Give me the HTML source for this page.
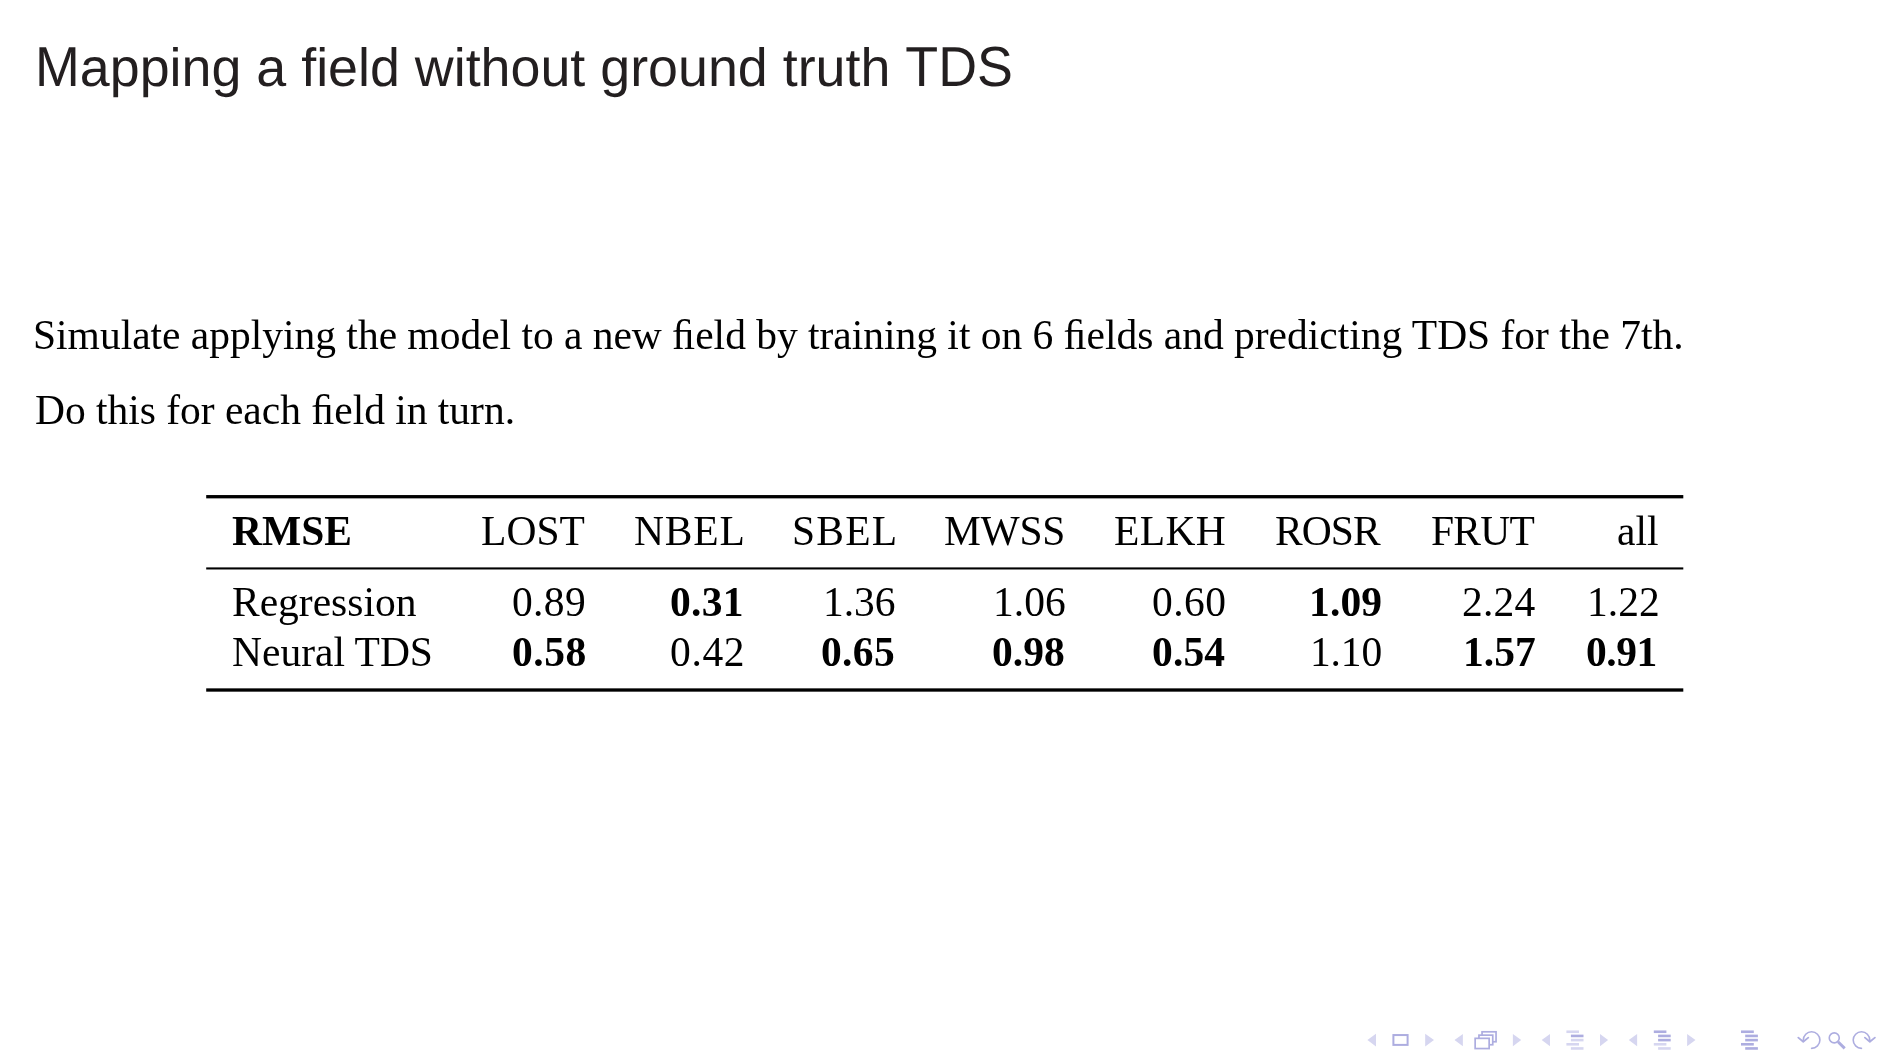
<!DOCTYPE html>
<html><head><meta charset="utf-8"><title>Mapping a field without ground truth TDS</title>
<style>
html,body{margin:0;padding:0;background:#fff;-webkit-font-smoothing:antialiased}
body{width:1890px;height:1063px;position:relative;overflow:hidden}
.a{position:absolute;white-space:nowrap;margin:0;will-change:transform}
.ttl{font-family:"Liberation Sans",sans-serif;font-size:53.8px;line-height:60px;color:#231F20;left:35px;top:37.8px;text-rendering:geometricPrecision}
.c{display:inline-block;transform:scaleY(1.049);transform-origin:0 48.65px}
.s{font-family:"Liberation Serif",serif;font-size:41.5px;line-height:50px;color:#000}
.r{text-align:right}
.b{font-weight:bold}
svg{position:absolute;left:0;top:0}
</style></head><body>
<div class="a ttl"><span class="c">M</span>apping a field without ground truth <span class="c">T</span><span class="c">D</span><span class="c">S</span></div>
<div class="a s" style="left:33.4px;top:310px;word-spacing:-0.08px">Simulate applying the model to a new ﬁeld by training it on 6 ﬁelds and predicting TDS for the 7th.</div>
<div class="a s" style="left:34.5px;top:385px;word-spacing:-0.1px">Do this for each ﬁeld in turn.</div>

<!-- TABLE START -->
<div class="a s b" style="left:231.8px;top:506px;">RMSE</div>
<div class="a s r" style="right:1304.92px;top:506px;letter-spacing:0.04px;">LOST</div>
<div class="a s r" style="right:1144.23px;top:506px;letter-spacing:0.86px;">NBEL</div>
<div class="a s r" style="right:991.87px;top:506px;letter-spacing:1.22px;">SBEL</div>
<div class="a s r" style="right:824.77px;top:506px;letter-spacing:-0.31px;">MWSS</div>
<div class="a s r" style="right:663.59px;top:506px;letter-spacing:0.38px;">ELKH</div>
<div class="a s r" style="right:510.27px;top:506px;letter-spacing:-0.90px;">ROSR</div>
<div class="a s r" style="right:355.52px;top:506px;letter-spacing:-0.72px;">FRUT</div>
<div class="a s r" style="right:232.00px;top:506px;">all</div>
<div class="a s" style="left:231.6px;top:577px;">Regression</div>
<div class="a s r" style="right:1304.45px;top:577px;letter-spacing:0.34px;">0.89</div>
<div class="a s b r" style="right:1145.83px;top:577px;letter-spacing:0.28px;">0.31</div>
<div class="a s r" style="right:994.54px;top:577px;letter-spacing:-0.08px;">1.36</div>
<div class="a s r" style="right:824.86px;top:577px;">1.06</div>
<div class="a s r" style="right:663.50px;top:577px;letter-spacing:0.43px;">0.60</div>
<div class="a s b r" style="right:507.44px;top:577px;letter-spacing:0.16px;">1.09</div>
<div class="a s r" style="right:354.64px;top:577px;letter-spacing:0.18px;">2.24</div>
<div class="a s r" style="right:230.78px;top:577px;letter-spacing:0.02px;">1.22</div>
<div class="a s" style="left:231.8px;top:627px;">Neural TDS</div>
<div class="a s b r" style="right:1303.16px;top:627px;letter-spacing:0.50px;">0.58</div>
<div class="a s r" style="right:1144.94px;top:627px;letter-spacing:0.65px;">0.42</div>
<div class="a s b r" style="right:994.48px;top:627px;letter-spacing:0.37px;">0.65</div>
<div class="a s b r" style="right:825.14px;top:627px;letter-spacing:0.02px;">0.98</div>
<div class="a s b r" style="right:664.78px;top:627px;letter-spacing:0.16px;">0.54</div>
<div class="a s r" style="right:508.19px;top:627px;letter-spacing:-0.15px;">1.10</div>
<div class="a s b r" style="right:354.45px;top:627px;letter-spacing:0.05px;">1.57</div>
<div class="a s b r" style="right:233.68px;top:627px;letter-spacing:-0.47px;">0.91</div>
<!-- TABLE END -->

<svg width="1890" height="1063" viewBox="0 0 1890 1063">
<!-- booktabs rules -->
<rect x="206.2" y="495.05" width="1477.1" height="3.32" fill="#000"/>
<rect x="206.2" y="567.4" width="1477.1" height="2.08" fill="#000"/>
<rect x="206.2" y="688.35" width="1477.1" height="3.32" fill="#000"/>

<!-- navigation symbols -->
<g fill="#D6D6F0">
<polygon points="1367.4,1040.1 1376,1033.8 1376,1046.4"/>
<polygon points="1425.2,1033.8 1434,1040.1 1425.2,1046.4"/>
<polygon points="1454.5,1040.1 1462.9,1033.9 1462.9,1046.3"/>
<polygon points="1512.9,1033.9 1521.2,1040.1 1512.9,1046.3"/>
<polygon points="1541.7,1040.1 1550,1033.9 1550,1046.3"/>
<polygon points="1600,1033.9 1608.1,1040.1 1600,1046.3"/>
<polygon points="1628.8,1040.1 1637.1,1033.9 1637.1,1046.3"/>
<polygon points="1687.1,1033.9 1695.5,1040.1 1687.1,1046.3"/>
</g>
<!-- slide icon -->
<rect x="1393.4" y="1035.05" width="14.2" height="9.85" fill="none" stroke="#ADADE0" stroke-width="2"/>
<!-- frame icon -->
<g stroke="#ADADE0" stroke-width="1.7" fill="#fff">
<rect x="1482.05" y="1031.8" width="14" height="9.95"/>
<rect x="1478.95" y="1035.15" width="13.8" height="9.6"/>
<rect x="1475.15" y="1038.35" width="14" height="10.2"/>
</g>
<!-- subsection icon -->
<rect x="1566.4" y="1030.45" width="12.6" height="2.6" fill="#D6D6F0"/>
<rect x="1570.9" y="1034.63" width="12.6" height="2.6" fill="#ADADE0"/>
<rect x="1570.9" y="1038.8" width="12.6" height="2.6" fill="#D6D6F0"/>
<rect x="1566.4" y="1042.98" width="12.6" height="2.6" fill="#D6D6F0"/>
<rect x="1570.9" y="1047.15" width="12.6" height="2.6" fill="#D6D6F0"/>
<!-- section icon -->
<rect x="1653.8" y="1030.45" width="12.6" height="2.6" fill="#ADADE0"/>
<rect x="1658.1" y="1034.63" width="12.6" height="2.6" fill="#ADADE0"/>
<rect x="1658.1" y="1038.8" width="12.6" height="2.6" fill="#ADADE0"/>
<rect x="1653.8" y="1042.98" width="12.6" height="2.6" fill="#D6D6F0"/>
<rect x="1658.1" y="1047.15" width="12.6" height="2.6" fill="#D6D6F0"/>
<!-- document icon -->
<g fill="#ADADE0">
<rect x="1741" y="1030.45" width="12.8" height="2.6"/>
<rect x="1745.2" y="1034.63" width="12.7" height="2.6"/>
<rect x="1745.2" y="1038.8" width="12.7" height="2.6"/>
<rect x="1741" y="1042.98" width="12.8" height="2.6"/>
<rect x="1745.2" y="1047.15" width="12.7" height="2.6"/>
</g>
<!-- undo / search / redo -->
<g fill="none" stroke="#ADADE0" stroke-width="1.6" stroke-linecap="round">
<path d="M1811.6,1048.36 A8.3,8.3 0 1 0 1803.3,1040.06"/>
<circle cx="1834.25" cy="1037.9" r="5.0"/>
<path d="M1861.5,1048.36 A8.3,8.3 0 1 1 1869.8,1040.06"/>
</g>
<g fill="none" stroke="#ADADE0" stroke-width="1.8" stroke-linecap="round" stroke-linejoin="round">
<polyline points="1798.3,1037.6 1803.25,1041.8 1808.3,1037.6"/>
<polyline points="1864.9,1037.6 1869.85,1041.8 1874.9,1037.6"/>
</g>
<line x1="1838.0" y1="1041.7" x2="1844.7" y2="1048.4" stroke="#ADADE0" stroke-width="2.9"/>
</svg>
</body></html>
